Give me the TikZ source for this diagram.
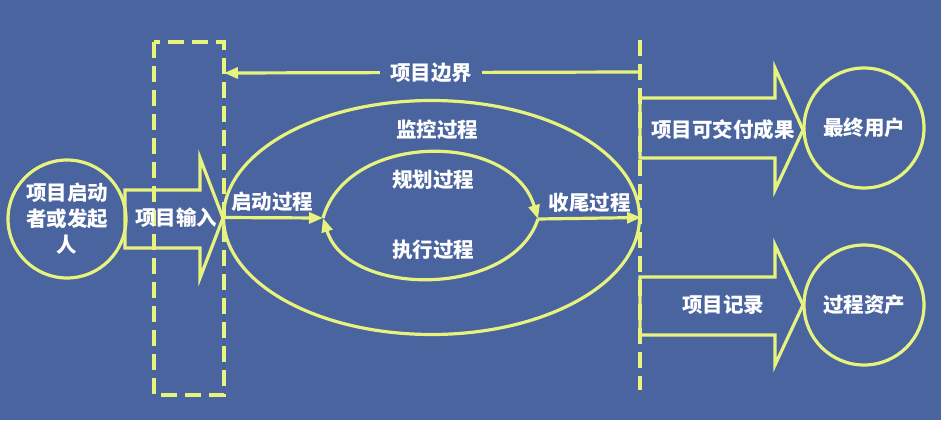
\documentclass[tikz,border=0pt]{standalone}
\usepackage{fontspec}
\newfontfamily\cjk{Noto Sans CJK SC}
\usetikzlibrary{arrows.meta, shapes.geometric}
\definecolor{bgblue}{HTML}{4A64A0}
\definecolor{lineyellow}{HTML}{E8F27E}
\tikzset{
    yline/.style={draw=lineyellow, line width=3.2pt},
    ydash/.style={yline, dash pattern=on 16pt off 8pt},
    tip/.style={-{Triangle[length=14pt, width=11pt]}},
    lbl/.style={text=white, font=\cjk\bfseries\fontsize{20.5}{26}\selectfont},
    party/.style={circle, yline, minimum size=120pt, inner sep=0pt, lbl, align=center}
}
\begin{document}
\begin{tikzpicture}[x=1pt, y=-1pt]
    \fill[bgblue] (0, 0) rectangle (941, 420);
    \useasboundingbox (0, 0) rectangle (941, 420);
    \node[party, minimum size=118pt] (sponsor) at(67, 219) {项目启动\\者或发起\\人};
    \node[party] (users) at(864, 128) {最终用户};
    \node[party] (assets) at(864, 305) {过程资产};
    \draw[ydash] (154, 42) rectangle (224, 395);
    \draw[ydash] (640, 40) -- (640, 390);
    \node[ellipse, yline, minimum width=416pt, minimum height=234pt] (scope) at(431.5, 217.5) {};
    \draw[yline] (125, 190) -- (200, 190) -- (200, 158) -- (223, 218) -- (200, 278) -- (200, 248) -- (125, 248) -- cycle;
    \draw[yline] (640, 98) -- (775, 98) -- (775, 68) -- (803, 130) -- (775, 190) -- (775, 158) -- (640, 158) -- cycle;
    \draw[yline] (640, 277) -- (775, 277) -- (775, 245) -- (803, 305) -- (775, 365) -- (775, 335) -- (640, 335) -- cycle;
    \node[lbl] (input) at(176, 218) {项目输入};
    \node[lbl] (deliver) at(723, 130) {项目可交付成果};
    \node[lbl] (records) at(723, 305) {项目记录};
    \coordinate (bndL) at(224, 73);
    \coordinate (bndR) at(638, 72);
    \draw[yline, tip, {Triangle[length=14pt, width=11pt]}-] (bndL) -- node[lbl, fill=bgblue, inner xsep=10pt] {项目边界} (bndR);
    \coordinate (planL) at(323, 218);
    \coordinate (planR) at(538, 219);
    \draw[yline, tip] (scope.west) -- node[lbl, above=1pt] {启动过程} (planL);
    \draw[yline, tip] (planR) -- node[lbl, above=1pt] {收尾过程} (scope.east);
    \draw[yline, tip] (planL) .. controls (348, 131) and (512, 131) .. (planR);
    \draw[yline, tip] (planR) .. controls (512, 298) and (348, 298) .. (planL);
    \node[lbl] (monitor) at(437, 130) {监控过程};
    \node[lbl] (plan) at(433, 180) {规划过程};
    \node[lbl] (execute) at(433, 250) {执行过程};
\end{tikzpicture}
\end{document}
